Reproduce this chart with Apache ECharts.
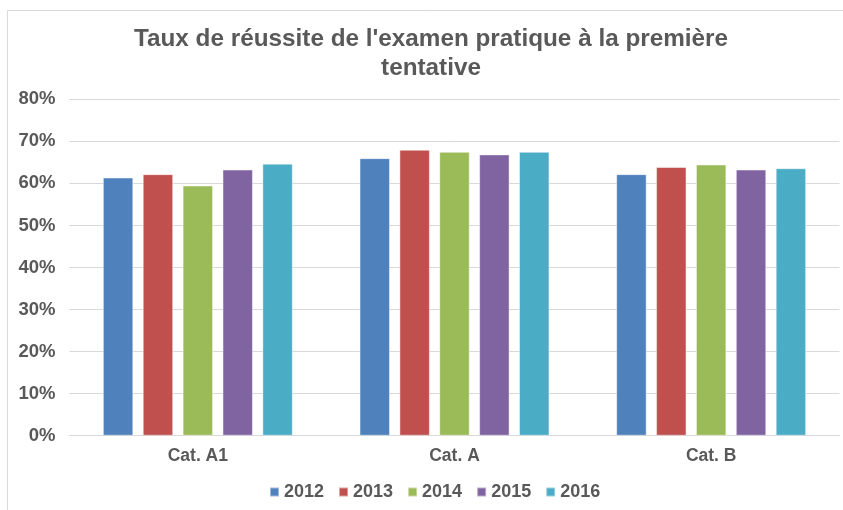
<!DOCTYPE html>
<html>
<head>
<meta charset="utf-8">
<script src="https://cdn.jsdelivr.net/npm/echarts@6/dist/echarts.min.js"></script>
<style>html,body{margin:0;padding:0;background:#fff;}#c{width:843px;height:510px;}</style>
</head>
<body>
<div id="c"></div>
<script>
const categories = ['Cat. A1', 'Cat. A', 'Cat. B'];
const seriesNames = ['2012', '2013', '2014', '2015', '2016'];
const s2012 = [61.4, 66.0, 62.2];
const s2013 = [62.2, 68.0, 63.9];
const s2014 = [59.5, 67.5, 64.5];
const s2015 = [63.3, 66.9, 63.3];
const s2016 = [64.7, 67.5, 63.6];
const yTicks = [0, 10, 20, 30, 40, 50, 60, 70, 80];
const colors = ['#4F81BD', '#C0504D', '#9BBB59', '#8064A2', '#4BACC6'];
const values = [s2012, s2013, s2014, s2015, s2016];

const chart = echarts.init(document.getElementById('c'));
const txt = '#595959';
const font = 'Liberation Sans, Arial, sans-serif';
chart.setOption({
  animation: false,
  color: colors,
  title: {
    text: "Taux de réussite de l'examen pratique à la première\ntentative",
    left: 431,
    top: 25,
    textAlign: 'center',
    padding: 0,
    textStyle: { color: txt, fontSize: 24.3, fontWeight: 'bold', fontFamily: font, lineHeight: 29 }
  },
  graphic: [{
    type: 'rect', z: -1, silent: true,
    shape: { x: 7.5, y: 10.5, width: 900, height: 600 },
    style: { fill: 'none', stroke: '#d9d9d9', lineWidth: 1 }
  }],
  legend: {
    data: seriesNames,
    bottom: 9,
    left: 269,
    padding: 0,
    icon: 'rect',
    itemWidth: 9,
    itemHeight: 9,
    itemGap: 14,
    textStyle: { color: txt, fontSize: 18, fontWeight: 'bold', fontFamily: font }
  },
  grid: { left: 69.5, width: 770, top: 99.3, height: 336.4, containLabel: false },
  xAxis: {
    type: 'category',
    data: categories,
    axisLine: { lineStyle: { color: '#d9d9d9' } },
    axisTick: { show: false },
    axisLabel: { color: txt, fontSize: 17.5, fontWeight: 'bold', fontFamily: font, margin: 11 }
  },
  yAxis: {
    type: 'value',
    min: yTicks[0],
    max: yTicks[yTicks.length - 1],
    interval: 10,
    axisLine: { show: false },
    axisTick: { show: false },
    splitLine: { lineStyle: { color: '#d9d9d9' } },
    axisLabel: { color: txt, fontSize: 18.5, fontWeight: 'bold', fontFamily: font, margin: 14, formatter: '{value}%' }
  },
  series: seriesNames.map((n, i) => ({
    name: n,
    type: 'bar',
    data: values[i],
    barCategoryGap: '26%',
    barGap: '31%',
    itemStyle: { color: colors[i], borderColor: 'rgba(255,255,255,0.45)', borderWidth: 1 }
  }))
});
</script>
</body>
</html>
